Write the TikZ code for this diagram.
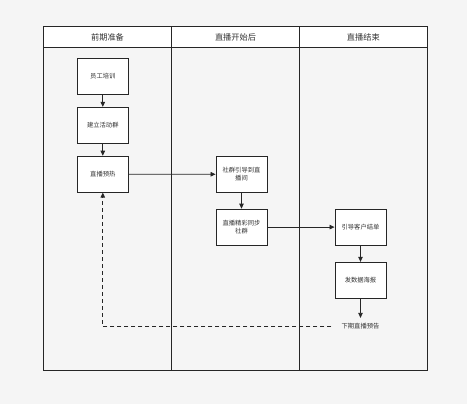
\documentclass[tikz,border=0pt]{standalone}
\usepackage{fontspec}
\setmainfont{Noto Sans CJK SC}
\usetikzlibrary{arrows.meta}
\definecolor{bg}{HTML}{F5F5F5}
\definecolor{ink}{HTML}{333333}
\begin{document}
\begin{tikzpicture}[x=1pt,y=-1pt,
  box/.style={draw=black!85,fill=white,line width=0.9pt,minimum width=51pt,minimum height=36pt,align=center,inner sep=1pt,font=\fontsize{6.3}{7.8}\selectfont,text=ink},
  hdr/.style={font=\fontsize{8.2}{9}\selectfont,text=ink},
  lane/.style={draw=black!85,line width=0.9pt},
  arr/.style={-{Triangle[length=5pt,width=4.5pt]},draw=black!85,line width=0.8pt},
  lbl/.style={font=\fontsize{6.3}{7.5}\selectfont,text=ink,inner xsep=10pt,inner ysep=5pt}]
\useasboundingbox (0,0) rectangle (467,404);
\fill[bg] (0,0) rectangle (467,404);
% pool
\draw[lane,fill=white] (43.5,26.7) rectangle (427,47.3);
\draw[lane] (43.5,47.3) rectangle (427,370);
\draw[lane] (171.5,26.7) -- (171.5,370);
\draw[lane] (299.5,26.7) -- (299.5,370);
\node[hdr] (h1) at (107.5,37) {前期准备};
\node[hdr] (h2) at (235.5,37) {直播开始后};
\node[hdr] (h3) at (363.3,37) {直播结束};
% boxes
\node[box] (a) at (102.8,76.2) {员工培训};
\node[box] (b) at (102.8,125.3) {建立活动群};
\node[box] (c) at (102.8,174.2) {直播预热};
\node[box] (d) at (241.5,174.3) {社群引导到直\\播间};
\node[box] (e) at (241.5,227.1) {直播精彩同步\\社群};
\node[box] (f) at (360.5,227.1) {引导客户结单};
\node[box] (g) at (360.5,280.3) {发数据海报};
\node[lbl] (n) at (360.5,326) {下期直播预告};
% arrows
\draw[arr] (a) -- (b);
\draw[arr] (b) -- (c);
\draw[arr] (c) -- (d);
\draw[arr] (d) -- (e);
\draw[arr] (e) -- (f);
\draw[arr] (f) -- (g);
\draw[arr] (g) -- (n);
\draw[arr,dashed,dash pattern=on 4pt off 3pt] (n.west) -- (n.west -| c) -- (c);
\end{tikzpicture}
\end{document}
